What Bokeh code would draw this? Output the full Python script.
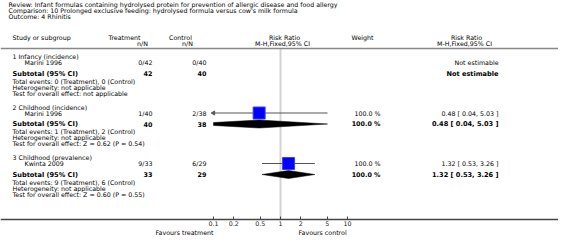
import math
from bokeh.plotting import figure
from bokeh.models import Range1d, LogScale, LogAxis, FixedTicker, Span, Label
from bokeh.embed import file_html
from bokeh.resources import INLINE

# ---------------- data ----------------
title_lines = [
    "Review:  Infant formulas containing hydrolysed protein for prevention of allergic disease and food allergy",
    "Comparison:  10 Prolonged exclusive feeding: hydrolysed formula versus cow's milk formula",
    "Outcome:  4 Rhinitis",
]
groups = ["1 Infancy (incidence)", "2 Childhood (incidence)", "3 Childhood (prevalence)"]
studies = ["Marini 1996", "Marini 1996", "Kwinta 2009"]
treat_events = [0, 1, 9]
treat_n = [42, 40, 33]
ctrl_events = [0, 2, 6]
ctrl_n = [40, 38, 29]
rr = [None, 0.48, 1.32]
rr_lo = [None, 0.04, 0.53]
rr_hi = [None, 5.03, 3.26]
weights = [None, 100.0, 100.0]
heterogeneity = ["not applicable", "not applicable", "not applicable"]
overall_tests = ["not applicable", "Z = 0.62 (P = 0.54)", "Z = 0.60 (P = 0.55)"]
ticks = [0.1, 0.2, 0.5, 1, 2, 5, 10]
tick_labels = ["0.1", "0.2", "0.5", "1", "2", "5", "10"]
fav_left = "Favours treatment"
fav_right = "Favours control"

# ---------------- layout ----------------
FONT = "DejaVu Sans"
FS = "6.3px"
FSB = "6.4px"
FSB2 = "6.6px"
W, H = 558, 241
X_ONE = 280.0              # image x of RR = 1
DEC = 67.0                 # px per decade
Y_AXIS = 219

p = figure(width=W, height=H, output_backend="svg", toolbar_location=None,
           x_range=Range1d(0, W), y_range=Range1d(H, 0),
           x_axis_type=None, y_axis_type=None,
           min_border_left=0, min_border_right=0, min_border_top=0, min_border_bottom=0)
p.outline_line_color = None
p.background_fill_color = "white"
p.border_fill_color = "white"

lo_log = (0 - X_ONE) / DEC
hi_log = (W - X_ONE) / DEC
p.extra_x_ranges = {"rr": Range1d(10 ** lo_log, 10 ** hi_log)}
p.extra_x_scales = {"rr": LogScale()}

ax = LogAxis(x_range_name="rr", ticker=FixedTicker(ticks=ticks, minor_ticks=[]),
             fixed_location=Y_AXIS)
ax.major_label_overrides = {t: l for t, l in zip(ticks, tick_labels)}
ax.axis_line_color = "#444444"
ax.axis_line_width = 1.5
ax.major_tick_line_color = "#444444"
ax.major_tick_in = 3
ax.major_tick_out = 0
ax.minor_tick_line_color = None
ax.major_label_standoff = 1
ax.major_label_text_font = FONT
ax.major_label_text_font_size = FS
ax.major_label_text_align = "left"
ax.major_label_text_color = "#222222"
p.add_layout(ax, "below")


def T(x, y, s, align="left", bold=False, size=None, color="black"):
    p.add_layout(Label(x=x, y=y, text=s, text_align=align, text_baseline="middle",
                       text_font=FONT, text_font_size=size or (FSB if bold else FS),
                       text_font_style="bold" if bold else "normal", text_color=color))


# titles
for i, s in enumerate(title_lines):
    T(8, 4 + 6 * i, s)

# headers
HY1, HY2 = 37, 43
T(12, HY1, "Study or subgroup")
T(124, HY1, "Treatment", "center")
T(142, HY2, "n/N", "center")
T(180, HY1, "Control", "center")
T(187, HY2, "n/N", "center")
T(284, HY1, "Risk Ratio", "center")
T(282, HY2, "M-H,Fixed,95% CI", "center")
T(362, HY1, "Weight", "center")
T(466, HY1, "Risk Ratio", "center")
T(464, HY2, "M-H,Fixed,95% CI", "center")
p.add_layout(Span(location=48, dimension="width", line_color="#888888", line_width=1.5))

# rows
G0, GSTEP = 56, 50.5
X_TRT, X_CTL, X_W, X_RR = 152, 206, 380, 498
sq_x, sq_y, seg = [], [], dict(x0=[], x1=[], y=[])
arr_y = []
dxs, dys = [], []
for g in range(len(groups)):
    y0 = G0 + GSTEP * g
    ys, ysub = y0 + 6, y0 + 17
    T(12, y0, groups[g])
    T(24, ys, studies[g])
    T(X_TRT, ys, f"{treat_events[g]}/{treat_n[g]}", "right")
    T(X_CTL, ys, f"{ctrl_events[g]}/{ctrl_n[g]}", "right")
    T(12, ysub, "Subtotal (95% CI)", bold=True, size=FSB2)
    T(X_TRT, ysub, f"{treat_n[g]}", "right", bold=True)
    T(X_CTL, ysub, f"{ctrl_n[g]}", "right", bold=True)
    T(12, ysub + 7.5, f"Total events: {treat_events[g]} (Treatment), {ctrl_events[g]} (Control)")
    T(12, ysub + 13.5, f"Heterogeneity: {heterogeneity[g]}")
    T(12, ysub + 19.5, f"Test for overall effect: {overall_tests[g]}")
    if rr[g] is None:
        T(X_RR, ys, "Not estimable", "right")
        T(X_RR, ysub, "Not estimable", "right", bold=True, size=FSB2)
        continue
    T(X_W, ys, f"{weights[g]:.1f} %", "right")
    T(X_W, ysub, f"{weights[g]:.1f} %", "right", bold=True)
    T(X_RR, ys, f"{rr[g]:.2f} [ {rr_lo[g]:.2f}, {rr_hi[g]:.2f} ]", "right")
    T(X_RR, ysub, f"{rr[g]:.2f} [ {rr_lo[g]:.2f}, {rr_hi[g]:.2f} ]", "right", bold=True, size=FSB2)
    xmin, xmax = ticks[0], ticks[-1]
    lo = max(rr_lo[g], xmin)
    hi = min(rr_hi[g], xmax)
    seg["x0"].append(lo); seg["x1"].append(hi); seg["y"].append(ys)
    if rr_lo[g] < xmin:
        arr_y.append(ys)
    sq_x.append(rr[g]); sq_y.append(ys)
    # diamond, clipped to axis limits
    hh = 4.0
    L, C, R = math.log10(rr_lo[g]), math.log10(rr[g]), math.log10(rr_hi[g])
    xl = math.log10(lo)
    fl = (xl - L) / (C - L) if C > L else 1.0
    xr = math.log10(hi)
    fr = (R - xr) / (R - C) if R > C else 1.0
    xs_ = [lo, rr[g], hi, hi, rr[g], lo]
    ys_ = [ysub - hh * fl, ysub - hh, ysub - hh * fr, ysub + hh * fr, ysub + hh, ysub + hh * fl]
    dxs.append(xs_); dys.append(ys_)

# line of no effect
p.segment(x0=[1], x1=[1], y0=[48], y1=[Y_AXIS], x_range_name="rr",
          line_color="#d4d4d4", line_width=2)
p.segment(x0=seg["x0"], x1=seg["x1"], y0=seg["y"], y1=seg["y"], x_range_name="rr",
          line_color="#555555", line_width=1)
if arr_y:
    p.scatter(x=[ticks[0]] * len(arr_y), y=arr_y, x_range_name="rr", marker="triangle",
              angle=math.pi / 2, size=4, fill_color="#555555", line_color="#555555")
p.scatter(x=sq_x, y=sq_y, x_range_name="rr", marker="square", size=12,
          fill_color="#0000ff", line_color="#3d3dff", line_width=1)
p.patches(xs=dxs, ys=dys, x_range_name="rr", fill_color="black", line_color="black", line_width=0.5)

# favours labels
T(213, 231.5, fav_left, "right")
T(298, 231.5, fav_right, "left")

open("out.html", "w").write(file_html(p, INLINE))
